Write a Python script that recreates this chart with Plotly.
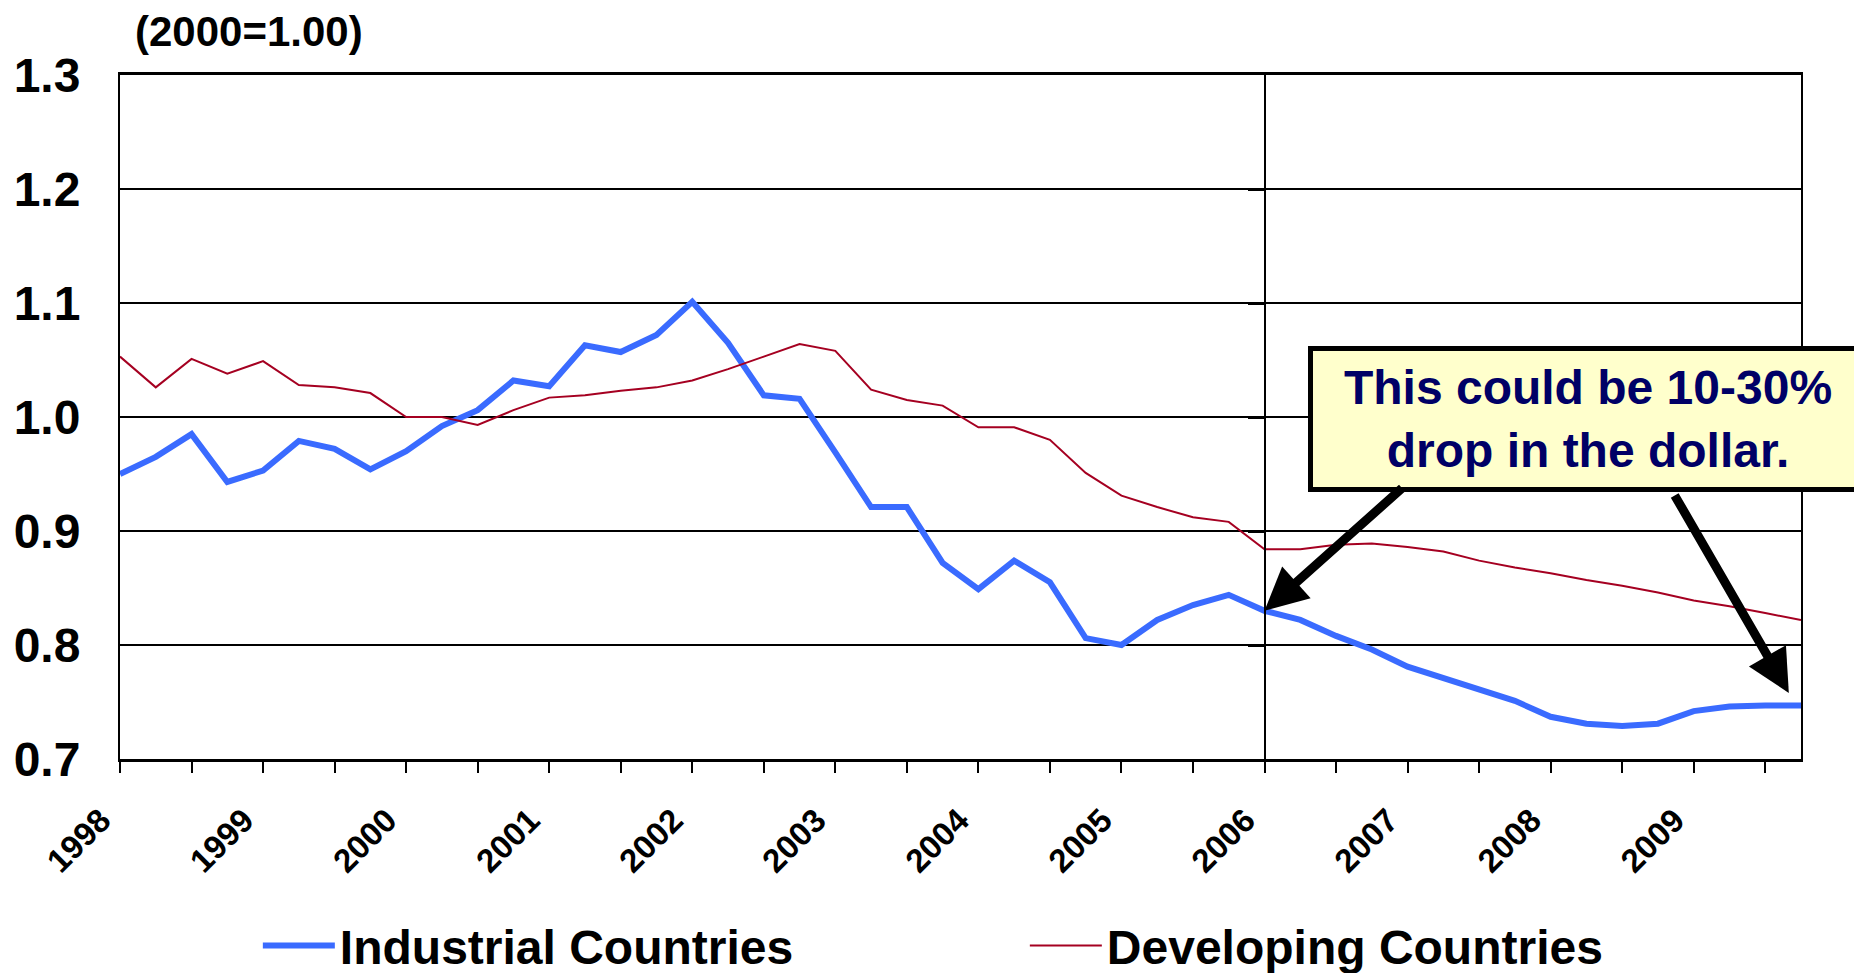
import plotly.graph_objects as go

# ---- data (quarterly, 1998Q1 .. 2009Q4; 2000 = 1.00) ----
years = list(range(1998, 2010))
quarters = [1, 2, 3, 4]
year_labels = [str(y) for y in years]

industrial = [
    0.950, 0.965, 0.985, 0.943, 0.953, 0.979, 0.972, 0.954, 0.970, 0.992,
    1.006, 1.032, 1.027, 1.063, 1.057, 1.072, 1.101, 1.065, 1.019, 1.016,
    0.969, 0.921, 0.921, 0.872, 0.849, 0.874, 0.855, 0.806, 0.800, 0.822,
    0.835, 0.844, 0.830, 0.822, 0.808, 0.796, 0.781, 0.771, 0.760, 0.751,
    0.737, 0.731, 0.729, 0.731, 0.742, 0.746, 0.747, 0.747,
]
developing = [
    1.053, 1.026, 1.051, 1.038, 1.049, 1.028, 1.026, 1.021, 1.000, 1.000,
    0.993, 1.006, 1.017, 1.019, 1.023, 1.026, 1.032, 1.042, 1.053, 1.064,
    1.058, 1.024, 1.015, 1.010, 0.991, 0.991, 0.980, 0.951, 0.931, 0.921,
    0.912, 0.908, 0.884, 0.884, 0.888, 0.889, 0.886, 0.882, 0.874, 0.868,
    0.863, 0.857, 0.852, 0.846, 0.839, 0.834, 0.828, 0.822,
]
y_ticks = [0.7, 0.8, 0.9, 1.0, 1.1, 1.2, 1.3]

# x position of each quarter on a numeric (year) axis
x_q = [y + (q - 1) / 4 for y in years for q in quarters]

FONT = "Liberation Sans, Arial, sans-serif"
marker_year = 2006
i_marker = x_q.index(marker_year)

fig = go.Figure()
fig.add_trace(go.Scatter(
    x=x_q, y=industrial, mode="lines", name="Industrial Countries",
    line=dict(color="#3A6BFF", width=6),
))
# drawn against a twin y-axis (same range) that sits at 2006 as the marker line
fig.add_trace(go.Scatter(
    x=x_q, y=developing, mode="lines", name="Developing Countries",
    line=dict(color="#A50021", width=2), yaxis="y2",
))

annotations = [
    dict(text="(2000=1.00)", xref="paper", yref="paper", x=0.0077, y=1.063,
         xanchor="left", yanchor="middle", showarrow=False,
         font=dict(family=FONT, size=42, color="black", weight="bold")),
    dict(text="This could be 10-30%<br>drop in the dollar.", xref="paper", yref="paper",
         x=0.873, y=0.497, xanchor="center", yanchor="middle", showarrow=False,
         bgcolor="#FFFFCC", bordercolor="black", borderwidth=5, borderpad=4,
         width=542, height=128, align="center",
         font=dict(family=FONT, size=48, color="#000066", weight="bold")),
    dict(text="", x=marker_year, y=industrial[i_marker], xref="x", yref="y",
         showarrow=True, ax=139, ay=-124, axref="pixel", ayref="pixel",
         arrowhead=2, arrowsize=0.95, arrowwidth=9, arrowcolor="black", standoff=0),
    dict(text="", x=x_q[-1] - 0.085, y=0.758, xref="x", yref="y",
         showarrow=True, ax=-115, ay=-199, axref="pixel", ayref="pixel",
         arrowhead=2, arrowsize=0.95, arrowwidth=9, arrowcolor="black", standoff=0),
]

# the page body has an 8px default margin, so the figure is 8px smaller
fig.update_layout(
    width=1854, height=965,
    template="none",
    paper_bgcolor="white", plot_bgcolor="white",
    margin=dict(l=112, r=61, t=67, b=214, autoexpand=False),
    font=dict(family=FONT, color="black"),
    showlegend=True,
    legend=dict(orientation="h", x=0.082, y=-0.273, xanchor="left", yanchor="middle",
                font=dict(family=FONT, size=48, color="black", weight="bold"),
                itemwidth=72, entrywidth=680, entrywidthmode="pixels",
                bgcolor="rgba(0,0,0,0)", borderwidth=0),
    annotations=annotations,
    xaxis=dict(
        range=[years[0], x_q[-1]], tickmode="array", tickvals=years, ticktext=year_labels,
        tickangle=-45, ticks="outside", ticklen=11, tickwidth=1.5, tickcolor="black",
        minor=dict(dtick=0.5, ticks="outside", ticklen=11, tickwidth=1.5, tickcolor="black",
                   showgrid=False),
        showgrid=False, zeroline=False, showline=True, linewidth=2.5, linecolor="black",
        mirror=True, automargin=False, ticklabelstandoff=15, ticklabelshift=-19,
        tickfont=dict(family=FONT, size=33, color="black", weight="bold"),
    ),
    yaxis=dict(
        range=[y_ticks[0], y_ticks[-1]], tickmode="array", tickvals=y_ticks,
        ticktext=[f"{v:.1f}" for v in y_ticks],
        showgrid=True, gridcolor="black", gridwidth=2, zeroline=False,
        showline=True, linewidth=2, linecolor="black", mirror=True, ticks="",
        automargin=False, ticklabelstandoff=28,
        tickfont=dict(family=FONT, size=48, color="black", weight="bold"),
    ),
    yaxis2=dict(
        overlaying="y", anchor="free", side="left",
        position=(marker_year - years[0]) / (x_q[-1] - years[0]),
        range=[y_ticks[0], y_ticks[-1]], tickmode="array", tickvals=y_ticks[1:-1],
        ticks="outside", ticklen=16, tickwidth=2.5, tickcolor="black",
        showticklabels=False, showgrid=False, zeroline=False,
        showline=True, linewidth=1.5, linecolor="black", automargin=False,
    ),
)

fig.write_html("out.html")
